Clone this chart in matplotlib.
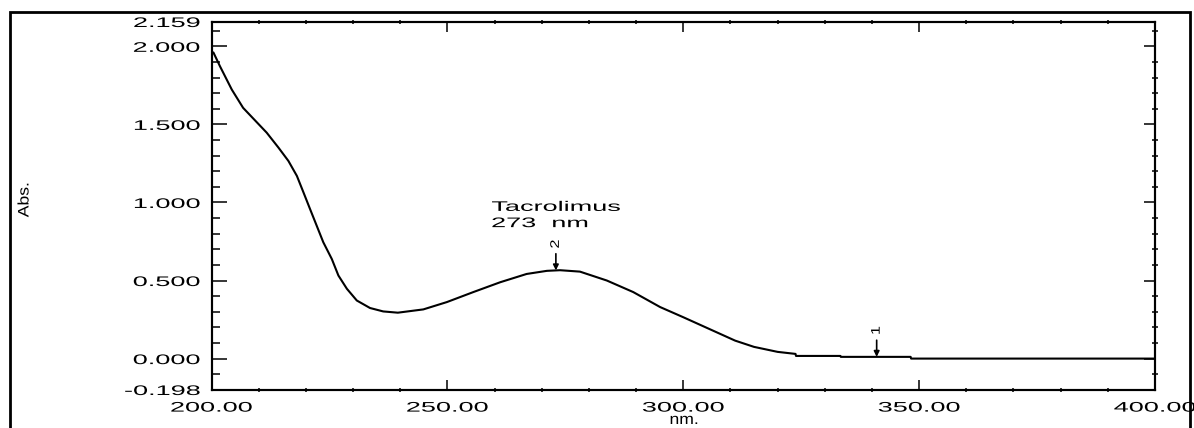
import numpy as np
import matplotlib
matplotlib.use('Agg')
import matplotlib.pyplot as plt
from matplotlib.patches import Rectangle
from matplotlib.patheffects import AbstractPathEffect
from matplotlib.transforms import Affine2D
from matplotlib.ticker import FixedLocator, MultipleLocator

plt.rcParams['font.family'] = ['Liberation Sans', 'DejaVu Sans']

# UV spectrum of tacrolimus
wavelength = [200.0, 200.4, 201.8, 204.3, 206.7, 208.9, 211.7, 214.2, 216.3, 218.1,
              219.5, 220.9, 222.3, 223.7, 225.5, 226.9, 228.7, 230.8, 233.6, 236.4,
              239.5, 244.9, 249.9, 255.5, 261.2, 266.8, 271.1, 273.9, 278.1, 283.8,
              289.4, 295.1, 300.0, 305.5, 311.0, 315.0, 320.0, 323.8, 323.9, 333.3,
              333.4, 348.2, 348.3, 400.0]
absorbance = [1.955, 1.961, 1.872, 1.723, 1.606, 1.536, 1.447, 1.351, 1.266, 1.170,
              1.064, 0.957, 0.851, 0.745, 0.638, 0.532, 0.447, 0.372, 0.324, 0.302,
              0.294, 0.315, 0.362, 0.426, 0.489, 0.542, 0.562, 0.566, 0.557, 0.500,
              0.426, 0.330, 0.265, 0.190, 0.115, 0.075, 0.043, 0.030, 0.017, 0.017,
              0.011, 0.011, 0.000, 0.000]

# detected peaks (arrow position, number)
peak_wl = [273, 341]
peak_no = ['2', '1']
peak_name = 'Tacrolimus'

x_ticks = [200, 250, 300, 350, 400]
y_ticks = [-0.198, 0.0, 0.5, 1.0, 1.5, 2.0, 2.159]


class Widen(AbstractPathEffect):
    """Stretch text glyphs along the writing direction."""
    def __init__(self, factor, anchor='center'):
        super().__init__()
        self.factor = factor
        self.anchor = anchor

    def draw_path(self, renderer, gc, tpath, affine, rgbFace=None):
        ext = tpath.get_extents()
        x0 = {'left': ext.x0, 'right': ext.x1,
              'center': 0.5 * (ext.x0 + ext.x1)}[self.anchor]
        widen = Affine2D().translate(-x0, 0).scale(self.factor, 1).translate(x0, 0)
        renderer.draw_path(gc, tpath, widen + affine, rgbFace)


W, H = 1194, 428
fig = plt.figure(figsize=(W / 100, H / 100), dpi=100)
ax = fig.add_axes([211.5 / W, 1 - 389.5 / H, (1155 - 211.5) / W, (389.5 - 21.5) / H])

ax.plot(wavelength, absorbance, color='black', lw=1.5)

ax.set_xlim(200, 400)
ax.set_ylim(-0.198, 2.159)

for s in ax.spines.values():
    s.set_linewidth(1.5)

# x axis: ticks on top and bottom
ax.xaxis.set_major_locator(FixedLocator(x_ticks))
ax.xaxis.set_minor_locator(MultipleLocator(10))
ax.set_xticklabels(['%.2f' % v for v in x_ticks])
ax.tick_params(axis='x', which='major', direction='in', length=7, width=1.1,
               top=True, bottom=True, pad=8, labelsize=10)
ax.tick_params(axis='x', which='minor', direction='inout', length=3.5, width=1.1,
               top=True, bottom=True)

# y axis (left)
ax.yaxis.set_major_locator(FixedLocator(y_ticks))
ax.yaxis.set_minor_locator(FixedLocator(np.arange(-0.1, 2.15, 0.1)))
ax.set_yticklabels(['%.3f' % v for v in y_ticks])
ax.tick_params(axis='y', which='major', direction='in', length=11, width=1.1,
               pad=8.3, labelsize=10)
ax.tick_params(axis='y', which='minor', direction='in', length=5.8, width=1.1)

# right side ticks
ax_r = ax.twinx()
ax_r.set_ylim(ax.get_ylim())
ax_r.yaxis.set_major_locator(FixedLocator(y_ticks))
ax_r.yaxis.set_minor_locator(FixedLocator(np.arange(-0.1, 2.15, 0.1)))
ax_r.tick_params(axis='y', which='major', direction='in', length=8, width=1.1,
                 labelright=False)
ax_r.tick_params(axis='y', which='minor', direction='inout', length=5, width=1.1)
for s in ax_r.spines.values():
    s.set_linewidth(1.5)

for lab in ax.get_yticklabels():
    lab.set_path_effects([Widen(1.95, 'right')])
for lab in ax.get_xticklabels():
    lab.set_path_effects([Widen(1.95, 'center')])

# peak arrows with their numbers
for wl, no in zip(peak_wl, peak_no):
    tip = np.interp(wl, wavelength, absorbance)
    ax.annotate('', xy=(wl, tip), xytext=(0, 12), textcoords='offset points',
                arrowprops=dict(arrowstyle='-|>', color='black', lw=1.2,
                                mutation_scale=8, shrinkA=0, shrinkB=0))
    t = ax.annotate(no, xy=(wl, tip), xytext=(0, 19), textcoords='offset points',
                    ha='center', va='center', rotation=90, fontsize=9)
    t.set_path_effects([Widen(1.3, 'center')])

t1 = ax.text(259.4, 0.946, peak_name, ha='left', va='baseline', fontsize=10)
t2 = ax.text(259.4, 0.842, '%d  nm' % peak_wl[0], ha='left', va='baseline', fontsize=10)
for t in (t1, t2):
    t.set_path_effects([Widen(1.95, 'left')])

# axis titles
ya = fig.text(24.5 / W, 1 - 200 / H, 'Abs.', rotation=90, ha='center', va='center',
              fontsize=11)
ya.set_path_effects([Widen(1.15, 'center')])
xa = fig.text(684 / W, 1 - 427 / H, 'nm.', ha='center', va='bottom', fontsize=11)
xa.set_path_effects([Widen(1.15, 'center')])

# outer frame
fig.patches.append(Rectangle((9.5 / W, -0.2), (1190 - 9.5) / W, 1.2 - 12 / H,
                             transform=fig.transFigure, fill=False,
                             edgecolor='black', lw=2))

fig.savefig('out.png', dpi=100)
